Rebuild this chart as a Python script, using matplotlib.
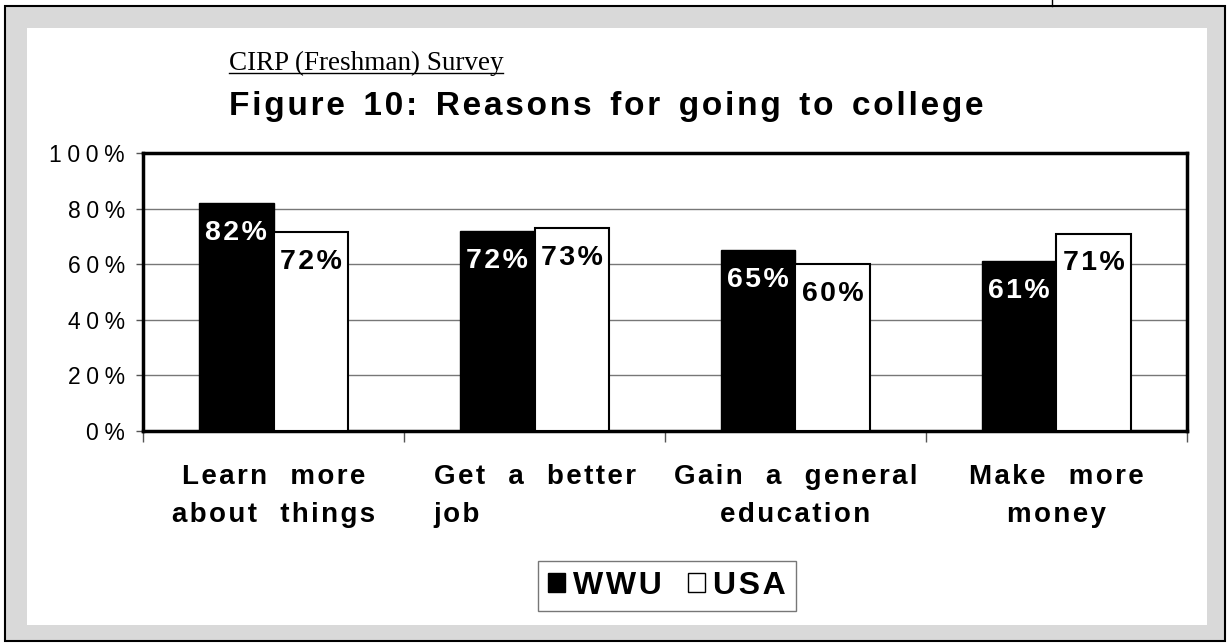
import matplotlib
matplotlib.use("Agg")
import matplotlib.pyplot as plt
from matplotlib.patches import Rectangle, Patch
from matplotlib.lines import Line2D

# Dados do gráfico
categories = ["Learn more\nabout things", "Get a better\njob",
              "Gain a general\neducation", "Make more\nmoney"]
label_align = ["center", "left", "center", "center"]
wwu = [82, 72, 65, 61]
usa = [71.5, 73, 60, 71]
usa_labels = [72, 73, 60, 71]
yticks = [0, 20, 40, 60, 80, 100]

W, H = 1228, 644
SP = "\u200a"  # espaço fino para imitar o espaçamento de letras


def spaced(s):
    return SP.join(s)


def spaced_words(s, gap="  "):
    # espaça letras e palavras, linha por linha
    return "\n".join(gap.join(spaced(w) for w in line.split())
                     for line in s.split("\n"))


def fx(px):
    return px / W


def fy(py):
    return 1 - py / H


plt.rcParams['font.family'] = ['Liberation Sans', 'DejaVu Sans']

fig = plt.figure(figsize=(W / 100, H / 100), dpi=100, facecolor="white")

# Moldura: borda preta, faixa cinza e área branca interna
fig.add_artist(Rectangle((fx(5), fy(641)), fx(1225) - fx(5), fy(6) - fy(641),
                         transform=fig.transFigure, facecolor="#d9d9d9",
                         edgecolor="black", linewidth=1.5, zorder=-2))
fig.add_artist(Rectangle((fx(27), fy(625)), fx(1207) - fx(27), fy(28) - fy(625),
                         transform=fig.transFigure, facecolor="white",
                         edgecolor="none", zorder=-1))
fig.add_artist(Line2D([fx(1052), fx(1052)], [fy(0), fy(6)],
                      transform=fig.transFigure, color="black", linewidth=1))

ax = fig.add_axes([fx(143), fy(431), fx(1187) - fx(143), fy(153) - fy(431)])
ax.set_zorder(2)
ax.set_facecolor("white")

x = list(range(len(categories)))
bw = 0.285
xw = [i - bw / 2 for i in x]
xu = [i + bw / 2 for i in x]
ax.bar(xw, wwu, width=bw, color="black", edgecolor="black", linewidth=1, zorder=3)
ax.bar(xu, usa, width=bw, color="white", edgecolor="black", linewidth=1.5, zorder=3)

for xi, v in zip(xw, wwu):
    ax.annotate(spaced(f"{v}%"), (xi, v), xytext=(0, -12), textcoords="offset points",
                ha="center", va="top", color="white", fontsize=20.5, fontweight="bold", zorder=4)
for xi, v, lab in zip(xu, usa, usa_labels):
    ax.annotate(spaced(f"{lab}%"), (xi, v), xytext=(0, -12), textcoords="offset points",
                ha="center", va="top", color="black", fontsize=20.5, fontweight="bold", zorder=4)

ax.set_xlim(-0.5, len(categories) - 0.5)
ax.set_ylim(0, 100)
ax.set_yticks(yticks)
ax.set_yticklabels([spaced(spaced(f"{t}%")) for t in yticks], fontsize=16.5)
ax.yaxis.grid(True, color="#777777", linewidth=1, zorder=1)
ax.set_axisbelow(True)

ax.set_xticks([i - 0.5 for i in range(len(categories) + 1)])
ax.set_xticklabels([])
ax.set_xticks(x, minor=True)
ax.set_xticklabels([spaced_words(c, "   ") for c in categories], minor=True,
                   fontsize=20, fontweight="bold", linespacing=1.6)
for t, al in zip(ax.get_xticklabels(minor=True), label_align):
    t.set_multialignment(al)
ax.tick_params(axis="x", which="minor", length=0, pad=24)
ax.tick_params(axis="x", which="major", length=8, width=1, color="#555555", direction="out")
ax.tick_params(axis="y", length=5, width=1, color="#555555", pad=8)

for s in ax.spines.values():
    s.set_linewidth(2.5)
    s.set_color("black")

# Títulos
fig.text(fx(229), fy(70), "CIRP (Freshman) Survey", fontsize=19.5,
         family=["Liberation Serif", "DejaVu Serif"], ha="left", va="baseline")
fig.add_artist(Line2D([fx(229), fx(503)], [fy(73), fy(73)],
                      transform=fig.transFigure, color="black", linewidth=1))
fig.text(fx(606), fy(115), spaced_words("Figure 10: Reasons for going to college"),
         fontsize=24, fontweight="bold", ha="center", va="baseline")

# Legenda
handles = [Patch(facecolor="black", edgecolor="black"),
           Patch(facecolor="white", edgecolor="black")]
leg = fig.legend(handles, [spaced("WWU"), spaced("USA")], loc="center",
                 bbox_to_anchor=(fx(667), fy(586)), ncol=2,
                 prop={"size": 23, "weight": "bold"}, frameon=True, fancybox=False,
                 handlelength=0.55, handleheight=0.55, handletextpad=0.25,
                 columnspacing=0.8, borderpad=0.3, borderaxespad=0)
leg.get_frame().set_edgecolor("#555555")
leg.get_frame().set_linewidth(1)

fig.savefig("out.png", dpi=100, facecolor="white")
